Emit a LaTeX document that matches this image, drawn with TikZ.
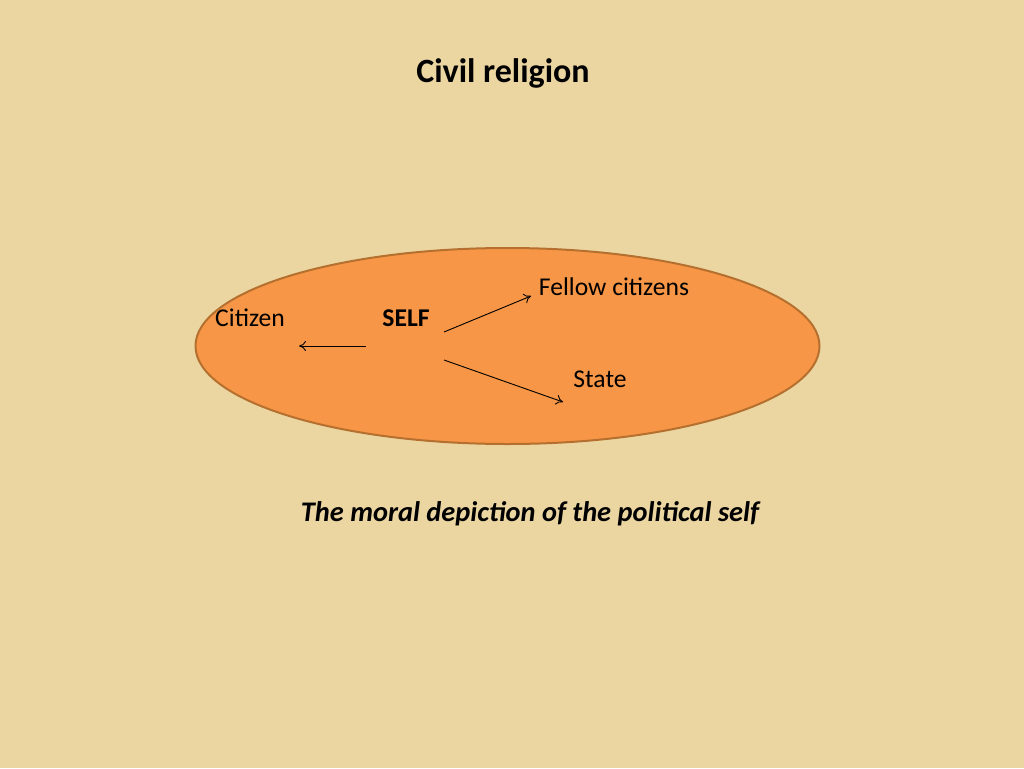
\documentclass[tikz,border=0pt]{standalone}
\usepackage{fontspec}
\setmainfont{Carlito}
\definecolor{paper}{HTML}{EBD6A2}
\definecolor{orangefill}{HTML}{F79646}
\definecolor{orangeedge}{HTML}{B5702F}
\tikzset{
  lbl/.style={inner sep=0pt, anchor=base, font=\fontsize{25.6}{30}\selectfont},
  arr/.style={-{To[length=7pt,width=10pt]}, line width=0.9pt, black},
}
\usetikzlibrary{arrows.meta}
\begin{document}
\begin{tikzpicture}[x=1pt,y=-1pt]
\fill[paper] (0,0) rectangle (1024,768);
\useasboundingbox (0,0) rectangle (1024,768);
\draw[fill=orangefill, draw=orangeedge, line width=2pt] (507.5,346) ellipse [x radius=312, y radius=98];
\node[inner sep=0pt, anchor=base, font=\fontsize{34}{40}\selectfont\bfseries] (title) at (503,82) {Civil religion};
\node[lbl] (citizen) at (250,326) {Citizen};
\node[lbl, font=\fontsize{25.6}{30}\selectfont\bfseries] (self) at (406,326) {SELF};
\node[lbl] (fellow) at (614,295) {Fellow citizens};
\node[lbl] (state) at (600,387) {State};
\node[inner sep=0pt, anchor=base, font=\fontsize{28.4}{34}\selectfont\bfseries\itshape] (caption) at (530,521) {The moral depiction of the political self};
\coordinate (c1) at (366,346);
\coordinate (c2) at (299,346);
\coordinate (f1) at (444,332);
\coordinate (f2) at (531,296);
\coordinate (s1) at (444,360);
\coordinate (s2) at (563,402);
\draw[arr] (c1) -- (c2);
\draw[arr] (f1) -- (f2);
\draw[arr] (s1) -- (s2);
\end{tikzpicture}
\end{document}
